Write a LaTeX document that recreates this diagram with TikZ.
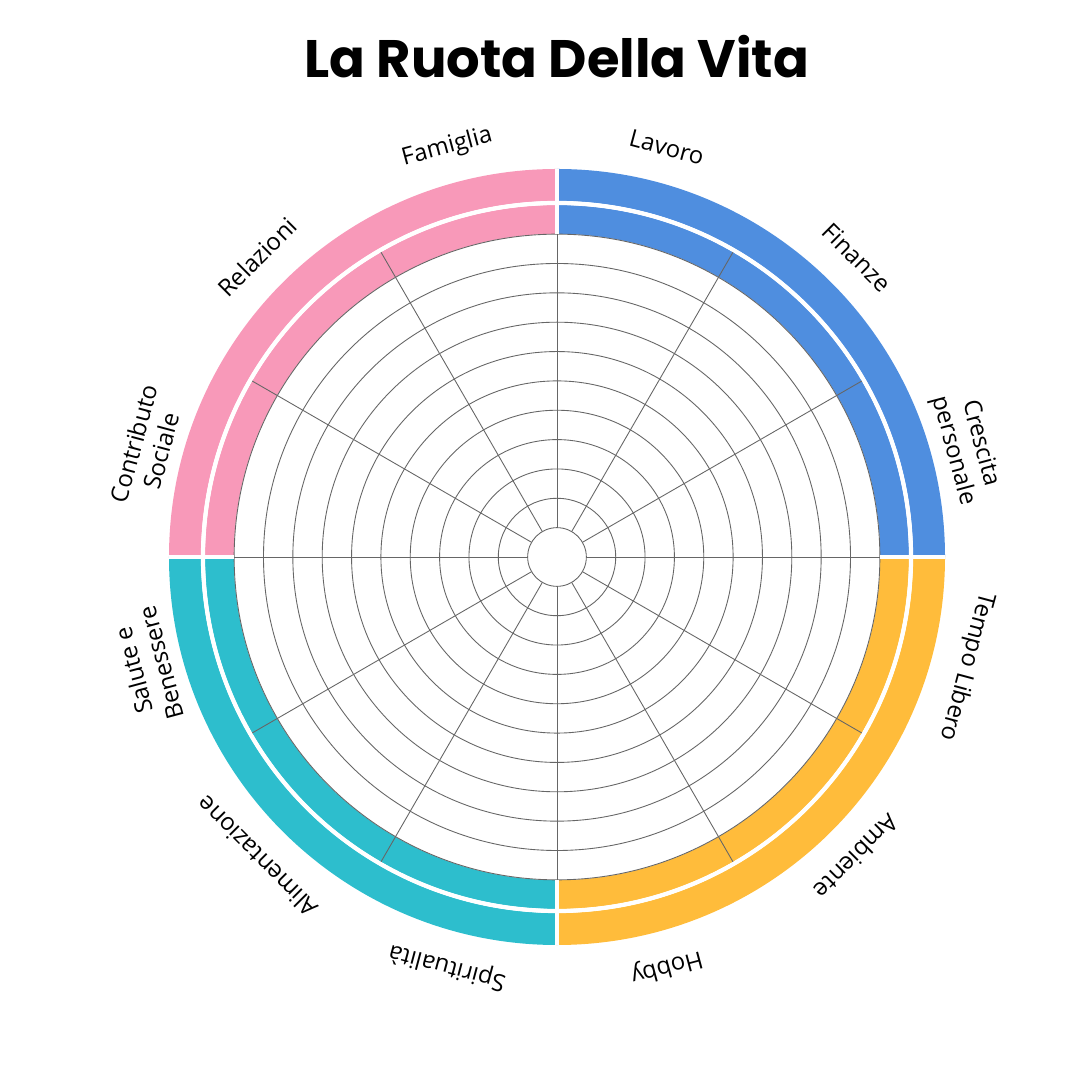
\documentclass[tikz,border=0pt]{standalone}
\usepackage{fontspec}
\setmainfont{Open Sans}
\newfontfamily\titlefont{Poppins}
\definecolor{pinkseg}{HTML}{F899B9}
\definecolor{blueseg}{HTML}{4F8EDF}
\definecolor{orangeseg}{HTML}{FFBC3B}
\definecolor{tealseg}{HTML}{2DBECD}
\begin{document}
\begin{tikzpicture}[x=0.01cm,y=0.01cm]
    \tikzset{
      gridline/.style={black!60,line width=0.25pt},
      sepline/.style={white,line width=1.2pt},
      spokelabel/.style={font=\fontsize{6.8}{8}\selectfont,align=center,inner sep=0pt}
    }
    \useasboundingbox (-557,-523) rectangle (523,557);
    \node[font=\titlefont\bfseries\fontsize{15}{18}\selectfont] (title) at (0,500) {La Ruota Della Vita};

    % coloured rings
    \foreach \a/\c in {0/blueseg,90/pinkseg,180/tealseg,270/orangeseg}{
      \fill[\c] (\a:388) arc (\a:\a+90:388) -- (\a+90:356) arc (\a+90:\a:356) -- cycle;
      \fill[\c] (\a:352) arc (\a:\a+90:352) -- (\a+90:323) arc (\a+90:\a:323) -- cycle;
    }
    \fill[white] (0,0) circle (323);
    \draw[sepline] (0,0) circle (354);

    % grid
    \foreach \i in {1,...,11}
      \draw[gridline] (0,0) circle (\i*29.35);
    \foreach \a in {0,30,...,330}
      \draw[gridline] (\a:29.35) -- (\a:352);
    \foreach \a in {0,90,180,270}
      \draw[sepline] (\a:323) -- (\a:388);

    % labels
    \foreach \a/\t [count=\n] in {75/Lavoro,45/Finanze,15/{Crescita\\personale},-15/Tempo Libero,
        -45/Ambiente,-75/Hobby,-105/Spiritualità,-135/Alimentazione,-165/{Salute e\\Benessere},
        165/{Contributo\\Sociale},135/Relazioni,105/Famiglia}
      \node[spokelabel,rotate=\a-90] (lab\n) at (\a:424) {\t};
\end{tikzpicture}
\end{document}
